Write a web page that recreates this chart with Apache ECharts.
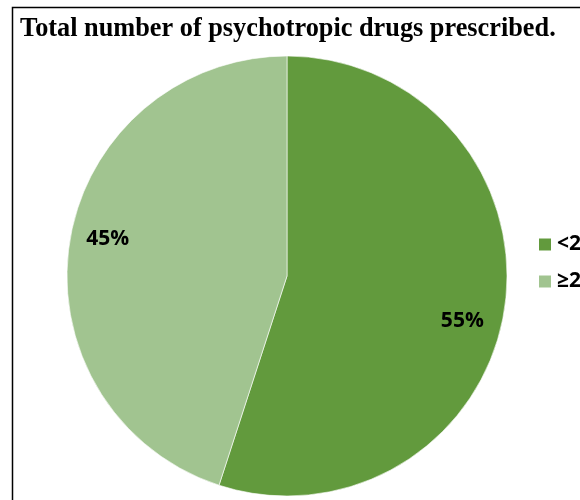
<!DOCTYPE html>
<html><head><meta charset="utf-8">
<script src="https://cdn.jsdelivr.net/npm/echarts@6/dist/echarts.min.js"></script>
<style>html,body{margin:0;padding:0;background:#fff}#c{width:580px;height:500px}</style>
</head><body><div id="c"></div>
<script>
const categories = ['<2', '≥2'];
const values = [55, 45];
const colors = ['#629A3D', '#A1C490'];
const titleText = 'Total number of psychotropic drugs prescribed.';

const chart = echarts.init(document.getElementById('c'), null, {renderer: 'canvas'});
const data = categories.map((c, i) => ({name: c, value: values[i], itemStyle: {color: colors[i]}}));
chart.setOption({
  animation: false,
  title: {
    text: titleText, left: 20, top: 16, padding: 0,
    textStyle: {fontFamily: 'Liberation Serif', fontWeight: 'bold', fontSize: 26.3, color: '#000'}
  },
  legend: {
    orient: 'vertical', left: 537, top: 234, padding: 0, itemWidth: 14, itemHeight: 14, itemGap: 16,
    icon: 'rect', data: categories,
    textStyle: {fontFamily: 'Open Sans', fontWeight: 'bold', fontSize: 21, color: '#000'}
  },
  graphic: [{type: 'rect', shape: {x: 12.5, y: 7.5, width: 700, height: 700}, style: {fill: 'none', stroke: '#000', lineWidth: 1.5}, silent: true, z: 100}],
  series: [{
    type: 'pie', center: [287, 276], radius: [0, 220], startAngle: 90, clockwise: true,
    data: data, label: {show: false}, labelLine: {show: false},
    itemStyle: {borderColor: '#fff', borderWidth: 0.6}, silent: true
  }, {
    type: 'pie', center: [287, 276], radius: [0, 358], startAngle: 86, clockwise: true,
    data: categories.map((c, i) => ({name: c, value: values[i]})),
    itemStyle: {color: 'rgba(0,0,0,0)'}, silent: true, legendHoverLink: false,
    label: {show: true, position: 'inside', offset: [-2, 4], formatter: p => p.value + '%', fontFamily: 'Open Sans', fontWeight: 'bold', fontSize: 21, color: '#000'},
    labelLine: {show: false}
  }]
});
</script></body></html>
